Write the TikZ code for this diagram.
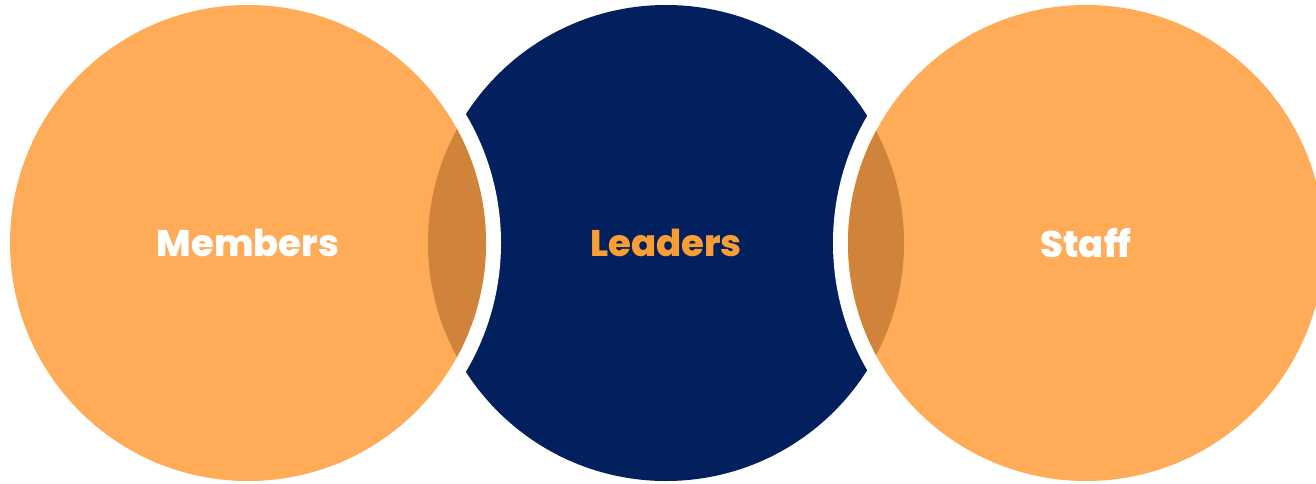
\documentclass[tikz,border=0pt]{standalone}
\usepackage{fontspec}
\setmainfont{Poppins}[BoldFont={Poppins ExtraBold}]
\usepackage{xcolor}
\usepackage{tikz}
\usetikzlibrary{positioning}

\definecolor{peach}{HTML}{FFAB57}
\definecolor{navy}{HTML}{02205E}
\definecolor{rust}{HTML}{D0833A}
\definecolor{amber}{HTML}{F99E35}

\tikzset{
  group/.style={circle,minimum size=476pt,inner sep=0pt,font=\fontsize{37}{37}\selectfont\bfseries},
  gap/.style={fill=white},
}

\begin{document}
\begin{tikzpicture}[x=1pt,y=1pt]
    \useasboundingbox (0,0) rectangle (1316,483);
    % Middle circle
    \node[group,fill=navy,text=amber] (leaders) at (666,240) {Leaders};
    
    % White gaps around the outer circles
    \fill[gap] (248,240) circle (253pt) (1086,240) circle (253pt);
    
    % Outer circles
    \node[group,fill=peach,text=white] (members) at (248,240) {Members};
    \node[group,fill=peach,text=white] (staff) at (1086,240) {Staff};
    
    % Overlaps
    \begin{scope}
        \clip (leaders.center) circle (238pt);
        \fill[rust] (members.center) circle (238pt) (staff.center) circle (238pt);
    \end{scope}
\end{tikzpicture}
\end{document}
